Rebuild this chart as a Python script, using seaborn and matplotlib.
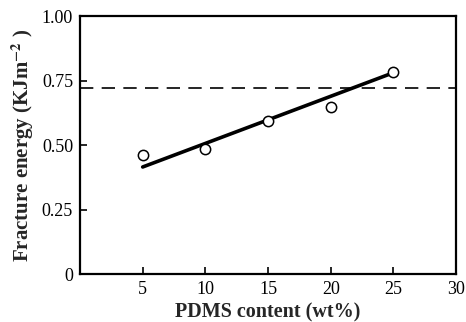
import matplotlib
matplotlib.use("Agg")
import matplotlib.pyplot as plt
import seaborn as sns
import pandas as pd

pdms = [5, 10, 15, 20, 25]
energy = [0.461, 0.485, 0.593, 0.647, 0.783]
fit_x = [5, 24.7]
fit_y = [0.415, 0.775]
ref_level = 0.722
xticks = [5, 10, 15, 20, 25, 30]
yticks = [0, 0.25, 0.50, 0.75, 1.00]
yticklabels = ["0", "0.25", "0.50", "0.75", "1.00"]

sns.set_style("ticks")
plt.rcParams['font.family'] = ['Liberation Serif', 'DejaVu Serif']
plt.rcParams['mathtext.fontset'] = 'stix'

fig = plt.figure(figsize=(4.66, 3.22), dpi=100)
ax = fig.add_axes([0.1717, 0.149, 0.807, 0.801])

df = pd.DataFrame({"x": pdms, "y": energy})
fit = pd.DataFrame({"x": fit_x, "y": fit_y})

sns.lineplot(data=fit, x="x", y="y", ax=ax, color="black", linewidth=2.6, zorder=2)
ax.axhline(ref_level, color="black", linewidth=1.2, dashes=(8, 5), zorder=1)
sns.scatterplot(data=df, x="x", y="y", ax=ax, s=55, facecolor="white",
                edgecolor="black", linewidth=1.1, zorder=3)

ax.set_xlim(0, 30)
ax.set_ylim(0, 1.0)
ax.set_xticks(xticks)
ax.set_xticklabels([str(t) for t in xticks])
ax.set_yticks(yticks)
ax.set_yticklabels(yticklabels)
ax.tick_params(direction="in", length=5, width=1.2, labelsize=13, colors="black", pad=5)
for s in ax.spines.values():
    s.set_linewidth(1.6)
    s.set_color("black")

ax.set_xlabel("PDMS content (wt%)", fontsize=14.5, fontweight="bold", labelpad=3)
ax.set_ylabel(r"Fracture energy (KJm$^{\mathbf{-2}}$ )", fontsize=15, fontweight="bold", labelpad=4)

fig.savefig("out.png", dpi=100)
